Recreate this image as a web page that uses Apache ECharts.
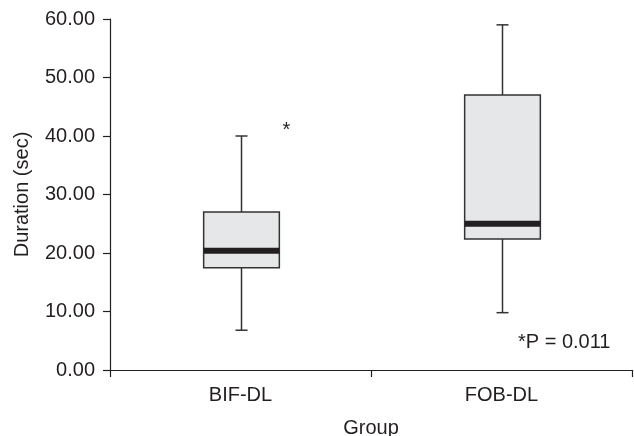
<!DOCTYPE html>
<html><head><meta charset="utf-8">
<style>html,body{margin:0;padding:0;background:#fff}#c{width:634px;height:436px}</style>
<script src="https://cdn.jsdelivr.net/npm/echarts@6/dist/echarts.min.js"></script>
</head><body><div id="c"></div>
<script>
const categories = ['BIF-DL', 'FOB-DL'];
const whiskerLow = [6.8, 9.8];
const q1 = [17.5, 22.4];
const median = [20.4, 25.0];
const q3 = [27.0, 47.0];
const whiskerHigh = [40.0, 59.0];
const outliers = [[0, 41.0]];
const yTicks = [0, 10, 20, 30, 40, 50, 60];
const note = '*P = 0.011';

const FONT = '"Liberation Sans", Arial, Helvetica, sans-serif';
const INK = '#231f20';
const boxData = categories.map((c, i) => [i, whiskerLow[i], q1[i], median[i], q3[i], whiskerHigh[i]]);

const chart = echarts.init(document.getElementById('c'), null, {renderer: 'canvas'});
chart.setOption({
  animation: false,
  backgroundColor: '#fff',
  grid: {left: 110, right: 2, top: 19, bottom: 66, containLabel: false, outerBoundsMode: 'none'},
  xAxis: {
    type: 'category', data: categories, boundaryGap: true,
    name: 'Group', nameLocation: 'middle', nameGap: 48,
    nameTextStyle: {fontFamily: FONT, fontSize: 20, color: INK},
    axisLine: {lineStyle: {color: INK, width: 1.2}},
    axisTick: {show: true, length: 7, alignWithLabel: false, lineStyle: {color: INK, width: 1.2}},
    axisLabel: {fontFamily: FONT, fontSize: 20, color: INK, margin: 15},
    splitLine: {show: false}
  },
  yAxis: {
    type: 'value', min: yTicks[0], max: yTicks[yTicks.length - 1], interval: 10,
    name: 'Duration (sec)', nameLocation: 'middle', nameGap: 78,
    nameTextStyle: {fontFamily: FONT, fontSize: 20, color: INK},
    axisLine: {show: true, lineStyle: {color: INK, width: 1.2}},
    axisTick: {show: true, length: 7, lineStyle: {color: INK, width: 1.2}},
    axisLabel: {fontFamily: FONT, fontSize: 20, color: INK, margin: 15,
      formatter: v => v.toFixed(2)},
    splitLine: {show: false}
  },
  series: [{
    type: 'custom',
    data: boxData,
    encode: {x: 0, y: [1, 2, 3, 4, 5]},
    renderItem: function (params, api) {
      const idx = api.value(0);
      const bw = api.size([1, 0])[0] * 0.29;
      const capW = 12;
      const pLow = api.coord([idx, api.value(1)]);
      const pQ1 = api.coord([idx, api.value(2)]);
      const pMed = api.coord([idx, api.value(3)]);
      const pQ3 = api.coord([idx, api.value(4)]);
      const pHigh = api.coord([idx, api.value(5)]);
      const cx = Math.round(pMed[0]) + 0.5;
      const stroke = {stroke: '#333', lineWidth: 1.5};
      return {
        type: 'group',
        children: [
          {type: 'line', shape: {x1: cx, y1: pHigh[1], x2: cx, y2: pQ3[1]}, style: stroke},
          {type: 'line', shape: {x1: cx, y1: pQ1[1], x2: cx, y2: pLow[1]}, style: stroke},
          {type: 'line', shape: {x1: cx - capW / 2, y1: pHigh[1], x2: cx + capW / 2, y2: pHigh[1]}, style: stroke},
          {type: 'line', shape: {x1: cx - capW / 2, y1: pLow[1], x2: cx + capW / 2, y2: pLow[1]}, style: stroke},
          {type: 'rect', shape: {x: cx - bw / 2, y: pQ3[1], width: bw, height: pQ1[1] - pQ3[1]},
            style: {fill: '#e6e7e8', stroke: '#333', lineWidth: 1.5}},
          {type: 'line', shape: {x1: cx - bw / 2, y1: pMed[1], x2: cx + bw / 2, y2: pMed[1]},
            style: {stroke: INK, lineWidth: 6}}
        ]
      };
    }
  }, {
    type: 'custom',
    data: outliers,
    encode: {x: 0, y: 1},
    renderItem: function (params, api) {
      const p = api.coord([api.value(0), api.value(1)]);
      return {type: 'text', x: p[0] + 46, y: p[1],
        style: {text: '*', fontFamily: FONT, fontSize: 20, fill: INK, align: 'center', verticalAlign: 'middle'}};
    }
  }],
  graphic: [{
    type: 'text', left: 518, top: 332,
    style: {text: note, fontFamily: FONT, fontSize: 20, fill: INK}
  }]
});
</script></body></html>
